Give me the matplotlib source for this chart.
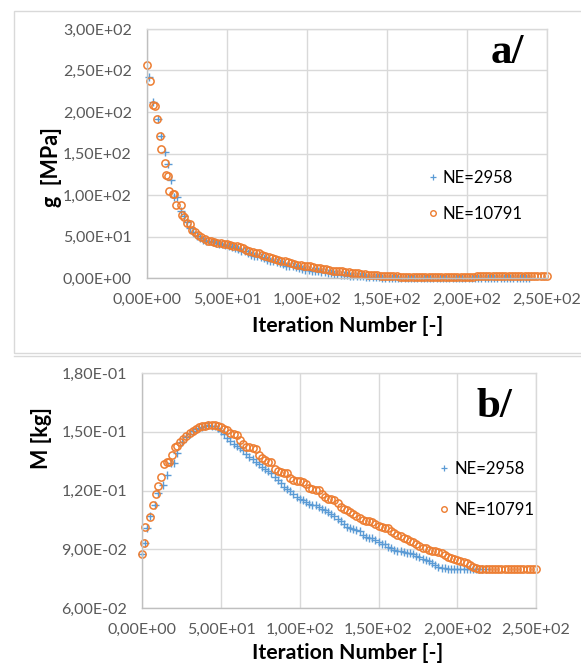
import numpy as np
import matplotlib
matplotlib.use("Agg")
import matplotlib.pyplot as plt
from matplotlib.lines import Line2D
from matplotlib.patches import Rectangle
from matplotlib.ticker import FuncFormatter

plt.rcParams["font.family"] = ["Lato", "DejaVu Sans"]

# ─────────────────────────────────────────────────────────────
# Data
# ─────────────────────────────────────────────────────────────

LABELS = ["NE=2958", "NE=10791"]

# panel a/ : g [MPa] vs iteration
it_a_coarse = [1, 4, 7, 9, 11, 13, 15, 17, 19, 21, 23, 25, 27, 29, 31, 33,
               35, 37, 39, 41, 43, 45, 47, 49, 51, 53, 55, 57, 59, 61, 63, 65,
               67, 69, 71, 73, 75, 77, 79, 81, 83, 85, 87, 89, 91, 93, 95, 97,
               99, 101, 103, 105, 107, 109, 111, 113, 115, 117, 119, 121, 123,
               125, 127, 129, 131, 133, 135, 137, 139, 141, 143, 145, 147, 149,
               151, 153, 155, 157, 159, 161, 163, 165, 167, 169, 171, 173, 175,
               177, 179, 181, 183, 185, 187, 189, 191, 193, 195, 197, 199, 201,
               203, 205, 207, 209, 211, 213, 215, 217, 219, 221, 223, 225, 227,
               229, 231, 233, 235, 237, 239]
g_coarse = [242, 212, 192, 171, 152, 137, 118, 98, 97, 81, 75, 68, 60, 55, 51, 48,
            46, 45, 44, 43, 42, 41, 41, 40, 39, 37, 36, 35, 33, 32, 30, 28,
            27, 26, 25, 24, 22, 21, 20, 19, 18, 17, 15, 14, 14, 13, 12, 11,
            10, 10, 9, 8, 8, 7, 7, 6, 6, 5, 5, 4, 4,
            3.5, 3, 3, 2.5, 2, 2, 1.5, 1.5, 1, 1, 0.8, 0.6, 0.5,
            0.4, 0.4, 0.4, 0.3, 0.3, 0.3, 0.3, 0.3, 0.3, 0.3, 0.3, 0.3, 0.3,
            0.3, 0.3, 0.3, 0.3, 0.3, 0.3, 0.3, 0.3, 0.3, 0.3, 0.3, 0.3, 0.4,
            0.4, 0.4, 0.4, 0.4, 0.4, 0.4, 0.4, 0.4, 0.4, 0.5, 0.5, 0.5, 0.5,
            0.5, 0.5, 0.5, 0.5, 0.5, 0.5]

it_a_fine = [0, 2, 4, 5, 6, 8, 9, 11, 12, 13, 14, 16, 17, 18, 21, 22, 23, 25, 27,
             28, 30, 32, 34, 36, 38, 40, 42, 44, 46, 48, 50, 52, 54, 56, 58, 60,
             62, 64, 66, 68, 70, 72, 74, 76, 78, 80, 82, 84, 86, 88, 90, 92, 94,
             96, 98, 100, 102, 104, 106, 108, 110, 112, 114, 116, 118, 120, 122,
             124, 126, 128, 130, 132, 134, 136, 138, 140, 142, 144, 146, 148,
             150, 152, 154, 156, 158, 160, 162, 164, 166, 168, 170, 172, 174,
             176, 178, 180, 182, 184, 186, 188, 190, 192, 194, 196, 198, 200,
             202, 204, 206, 208, 210, 212, 214, 216, 218, 220, 222, 224, 226,
             228, 230, 232, 234, 236, 238, 240, 242, 244, 246, 248, 250]
g_fine = [257, 237, 208, 207, 192, 171, 155, 138, 124, 123, 105, 101, 101, 88, 88,
          76, 74, 66, 65, 58, 55, 52, 49, 47, 45, 44, 43, 42, 42, 41, 41, 40,
          39, 38, 37, 36, 34, 32, 31, 30, 30, 28, 27, 25, 24, 23, 22, 21, 20,
          19, 18, 17, 16, 16, 15, 14, 14, 13, 12, 12, 11, 11, 10, 9, 9, 8, 8,
          7, 7, 6, 6, 5.5, 5, 4.5, 4, 4, 3.5, 3.5, 3, 3,
          2.5, 2.5, 2, 2, 1.5, 1.5, 1.5, 1.5, 1.5, 1.5, 1.5, 1.5, 1.5,
          1.5, 1.5, 1.5, 1.5, 1.5, 1.5, 1.5, 1.5, 1.5, 1.5, 1.5, 1.5, 1.5,
          1.5, 1.5, 2.5, 2.5, 2.5, 2.5, 2.5, 2.5, 2.5, 2.5, 2.5, 2.5, 2.5,
          2.5, 2.5, 2.5, 2.5, 2.5, 2.5, 2.5, 2.5, 2.5, 2.5, 2.5, 2.5]

# panel b/ : M [kg] vs iteration
it_b_coarse = [0, 2, 3, 5, 8, 10, 13, 16, 18, 20, 22, 25, 28, 30, 32, 34, 36, 38,
               40, 42, 44, 46, 48, 50, 52, 54, 56, 58, 60, 62, 64, 66, 68, 70,
               72, 74, 76, 78, 80, 82, 84, 86, 88, 90, 92, 94, 96, 98, 100, 102,
               104, 106, 108, 110, 112, 114, 116, 118, 120, 122, 124, 126, 128,
               130, 132, 134, 136, 138, 140, 142, 144, 146, 148, 150, 152, 154,
               156, 158, 160, 162, 164, 166, 168, 170, 172, 174, 176, 178, 180,
               182, 184, 186, 188, 190, 192, 194, 196, 198, 200, 202, 204, 206,
               208, 210, 212, 214, 216, 218]
m_coarse = [0.0878, 0.0932, 0.1011, 0.1069, 0.1128, 0.1185, 0.1227, 0.1278,
            0.1338, 0.1342, 0.1389, 0.1448, 0.1474, 0.1490, 0.1503, 0.1512,
            0.1520, 0.1526, 0.1530, 0.1532, 0.1531, 0.1528, 0.1520, 0.1505,
            0.1490, 0.1470, 0.1452, 0.1440, 0.1428, 0.1418, 0.1405, 0.1388,
            0.1372, 0.1360, 0.1345, 0.1335, 0.1322, 0.1310, 0.1300, 0.1290,
            0.1270, 0.1255, 0.1240, 0.1220, 0.1208, 0.1195, 0.1180, 0.1167,
            0.1158, 0.1150, 0.1140, 0.1133, 0.1128, 0.1125, 0.1118, 0.1108,
            0.1098, 0.1090, 0.1082, 0.1070, 0.1055, 0.1045, 0.1030, 0.1014,
            0.1010, 0.1005, 0.1000, 0.0995, 0.0975, 0.0963, 0.0958, 0.0955,
            0.0945, 0.0935, 0.0929, 0.0925, 0.0912, 0.0905, 0.0895, 0.0893,
            0.0890, 0.0886, 0.0882, 0.0880, 0.0878, 0.0868, 0.0858, 0.0850,
            0.0844, 0.0838, 0.0828, 0.0818, 0.0810, 0.0805, 0.0802, 0.0800,
            0.0800, 0.0800, 0.0800, 0.0800, 0.0800, 0.0800, 0.0800, 0.0800,
            0.0800, 0.0800, 0.0800, 0.0800]

it_b_fine = [0, 1, 2, 5, 7, 9, 10, 12, 14, 16, 17, 19, 21, 22, 24, 26, 28, 30,
             32, 34, 36, 38, 40, 42, 44, 46, 48, 50, 52, 54, 56, 58, 60, 62, 64,
             66, 68, 70, 72, 74, 76, 78, 80, 82, 84, 86, 88, 90, 92, 94, 96, 98,
             100, 102, 104, 106, 108, 110, 112, 114, 116, 118, 120, 122, 124,
             126, 128, 130, 132, 134, 136, 138, 140, 142, 144, 146, 148, 150,
             152, 154, 156, 158, 160, 162, 164, 166, 168, 170, 172, 174, 176,
             178, 180, 182, 184, 186, 188, 190, 192, 194, 196, 198, 200, 202,
             204, 206, 208, 210, 212, 214, 216, 218, 220, 222, 224, 226, 228,
             230, 232, 234, 236, 238, 240, 242, 244, 246, 248, 250]
m_fine = [0.0878, 0.0934, 0.1014, 0.1065, 0.1128, 0.1180, 0.1225, 0.1269,
          0.1333, 0.1343, 0.1345, 0.1380, 0.1420, 0.1425, 0.1448, 0.1465,
          0.1480, 0.1494, 0.1505, 0.1515, 0.1522, 0.1528, 0.1531, 0.1533,
          0.1533, 0.1533, 0.1530, 0.1522, 0.1515, 0.1508, 0.1495, 0.1486,
          0.1482, 0.1460, 0.1435, 0.1423, 0.1420, 0.1418, 0.1410, 0.1380,
          0.1365, 0.1355, 0.1348, 0.1346, 0.1310, 0.1298, 0.1292, 0.1288,
          0.1287, 0.1262, 0.1253, 0.1250, 0.1247, 0.1244, 0.1235, 0.1215,
          0.1210, 0.1205, 0.1201, 0.1180, 0.1165, 0.1159, 0.1155, 0.1150,
          0.1135, 0.1118, 0.1108, 0.1100, 0.1090, 0.1082, 0.1070, 0.1058,
          0.1048, 0.1045, 0.1042, 0.1039, 0.1030, 0.1018, 0.1012, 0.1009,
          0.1006, 0.0995, 0.0982, 0.0975, 0.0970, 0.0960, 0.0950, 0.0942,
          0.0937, 0.0925, 0.0915, 0.0908, 0.0904, 0.0898, 0.0893, 0.0889,
          0.0886, 0.0880, 0.0870, 0.0862, 0.0855, 0.0852, 0.0845, 0.0838,
          0.0835, 0.0828, 0.0818, 0.0810, 0.0805, 0.0801, 0.0800, 0.0800,
          0.0800, 0.0800, 0.0800, 0.0800, 0.0800, 0.0800, 0.0800, 0.0800,
          0.0800, 0.0800, 0.0800, 0.0800, 0.0800, 0.0800, 0.0800, 0.0800]

x_ticks = [0, 50, 100, 150, 200, 250]
g_ticks = [0, 50, 100, 150, 200, 250, 300]
m_ticks = [0.06, 0.09, 0.12, 0.15, 0.18]

# ─────────────────────────────────────────────────────────────
# Style
# ─────────────────────────────────────────────────────────────

W, H = 581, 668
BLUE = "#5b9bd5"
ORANGE = "#ed7d31"
GRID = "#d9d9d9"
AXIS = "#bfbfbf"
TICK = "#595959"


def sci_comma(v, _pos=None):
    s = f"{v:.2E}"
    return s.replace(".", ",")


def fx(px):
    return px / W


def fy(py):
    return 1 - py / H


def style_axes(ax, yticks):
    ax.set_xlim(0, 250)
    ax.set_ylim(yticks[0], yticks[-1])
    ax.set_xticks(x_ticks)
    ax.set_yticks(yticks)
    ax.xaxis.set_major_formatter(FuncFormatter(sci_comma))
    ax.yaxis.set_major_formatter(FuncFormatter(sci_comma))
    ax.grid(True, color=GRID, linewidth=1.0)
    ax.set_axisbelow(True)
    for side in ("top", "right"):
        ax.spines[side].set_color(GRID)
        ax.spines[side].set_linewidth(1.0)
    for side in ("left", "bottom"):
        ax.spines[side].set_color(AXIS)
        ax.spines[side].set_linewidth(1.0)
    ax.tick_params(length=0, colors=TICK, labelsize=11.5)
    ax.tick_params(axis="x", pad=11)
    ax.tick_params(axis="y", pad=11)


def draw_series(ax, xc, yc, xf, yf):
    ax.plot(xc, yc, linestyle="none", marker="+", markersize=6,
            markeredgewidth=1.0, color=BLUE, clip_on=False, label=LABELS[0])
    ax.plot(xf, yf, linestyle="none", marker="o", markersize=5.2,
            markerfacecolor="none", markeredgewidth=1.1, color=ORANGE,
            clip_on=False, label=LABELS[1])


def add_legend(x_px, y_px, spacing):
    handles = [
        Line2D([], [], linestyle="none", marker="+", markersize=5,
               markeredgewidth=0.9, color=BLUE),
        Line2D([], [], linestyle="none", marker="o", markersize=4,
               markerfacecolor="none", markeredgewidth=1.0, color=ORANGE),
    ]
    fig.legend(handles, LABELS, loc="upper left",
               bbox_to_anchor=(fx(x_px), fy(y_px)), frameon=False,
               fontsize=12, handlelength=0.6, handletextpad=0.3,
               labelspacing=spacing, borderpad=0, borderaxespad=0)


fig = plt.figure(figsize=(W / 100, H / 100), dpi=100)

# chart frames
fig.patches.append(Rectangle((fx(14), fy(353)), fx(W + 5) - fx(14), fy(11) - fy(353),
                             transform=fig.transFigure, fill=False,
                             edgecolor=GRID, linewidth=1.0))
fig.lines.append(Line2D([fx(14), 1], [fy(355.5), fy(355.5)],
                        transform=fig.transFigure, color=GRID, linewidth=1.0))

# ─── panel a ───
ax1 = fig.add_axes([fx(147), fy(278), fx(547) - fx(147), fy(29) - fy(278)])
style_axes(ax1, g_ticks)
draw_series(ax1, it_a_coarse, g_coarse, it_a_fine, g_fine)
add_legend(428, 170, 1.2)
fig.text(fx(348), fy(326), "Iteration Number [-]", ha="center", va="center",
         fontsize=15.3, fontweight="bold")
fig.text(fx(52), fy(167), "g  [MPa]", ha="center", va="center", rotation=90,
         fontsize=15.5, fontweight="bold")
fig.text(fx(491), fy(63), "a/", ha="left", va="baseline", fontsize=31,
         fontweight="bold", family="Liberation Serif")

# ─── panel b ───
ax2 = fig.add_axes([fx(142.3), fy(608), fx(536) - fx(142.3), fy(373) - fy(608)])
style_axes(ax2, m_ticks)
draw_series(ax2, it_b_coarse, m_coarse, it_b_fine, m_fine)
add_legend(439, 461, 1.5)
fig.text(fx(348), fy(653), "Iteration Number [-]", ha="center", va="center",
         fontsize=15.3, fontweight="bold")
fig.text(fx(42), fy(438), "M [kg]", ha="center", va="center", rotation=90,
         fontsize=15.5, fontweight="bold")
fig.text(fx(477), fy(417), "b/", ha="left", va="baseline", fontsize=31,
         fontweight="bold", family="Liberation Serif")

fig.savefig("out.png", dpi=100)
